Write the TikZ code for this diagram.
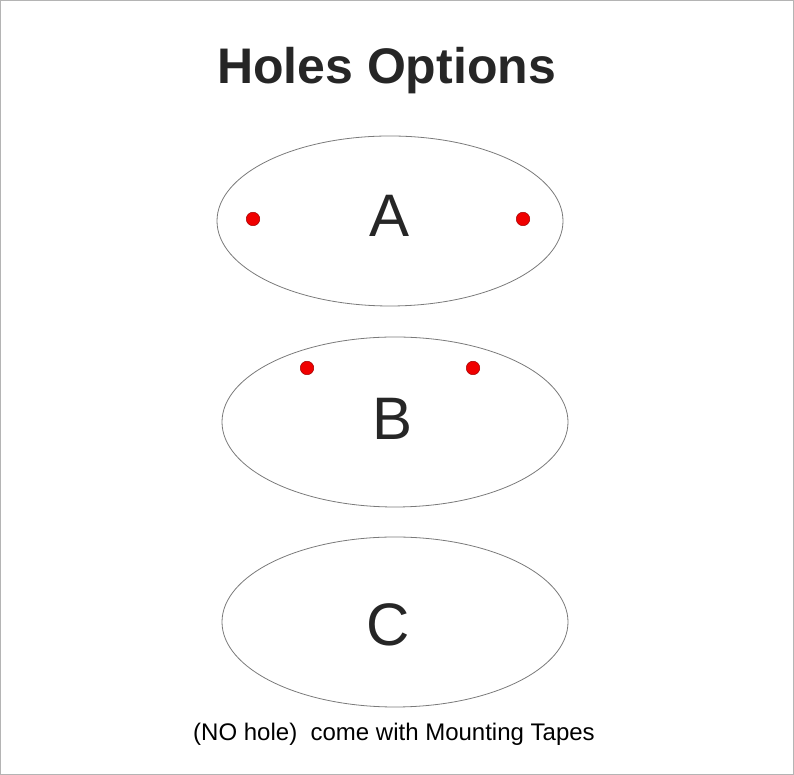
\documentclass[tikz,border=0pt]{standalone}
\usepackage{fontspec}
\setmainfont{Liberation Sans}
\usetikzlibrary{shapes.geometric}
\definecolor{frame}{HTML}{B4B4B4}
\definecolor{outline}{HTML}{7A7A7A}
\definecolor{txt}{HTML}{262626}
\definecolor{hole}{HTML}{F00000}
\definecolor{holeedge}{HTML}{A00000}
\tikzset{
  plate/.style={ellipse, draw=outline, line width=0.8pt, minimum width=346pt, minimum height=170pt, inner sep=0pt},
  holedot/.style={circle, fill=hole, draw=holeedge, line width=0.5pt, minimum size=13.5pt, inner sep=0pt},
  letter/.style={font=\fontsize{60}{60}\selectfont, text=txt, inner sep=0pt},
}
\begin{document}
\begin{tikzpicture}[x=1pt,y=1pt]
\draw[frame, line width=1pt] (0.5,0.5) rectangle (793.5,774.5);
\useasboundingbox (0,0) rectangle (794,775);
\node[font=\bfseries\fontsize{50}{50}\selectfont, text=txt, inner sep=0pt, anchor=base] (title) at (386.5,775-83.5) {Holes Options};
\node[plate] (A) at (390,775-221) {};
\node[plate] (B) at (395,775-422) {};
\node[plate] (C) at (395,775-622) {};
\node[letter] (la) at (390,775-216) {A};
\node[letter] (lb) at (393,775-419) {B};
\node[letter] (lc) at (388,775-625) {C};
\node[holedot] (a1) at (253,775-219) {};
\node[holedot] (a2) at (523,775-219) {};
\node[holedot] (b1) at (307,775-368) {};
\node[holedot] (b2) at (473,775-368) {};
\node[font=\fontsize{24}{24}\selectfont, text=black, inner sep=0pt] (note) at (394,775-734) {(NO hole)\ \ come with Mounting Tapes};
\end{tikzpicture}
\end{document}
